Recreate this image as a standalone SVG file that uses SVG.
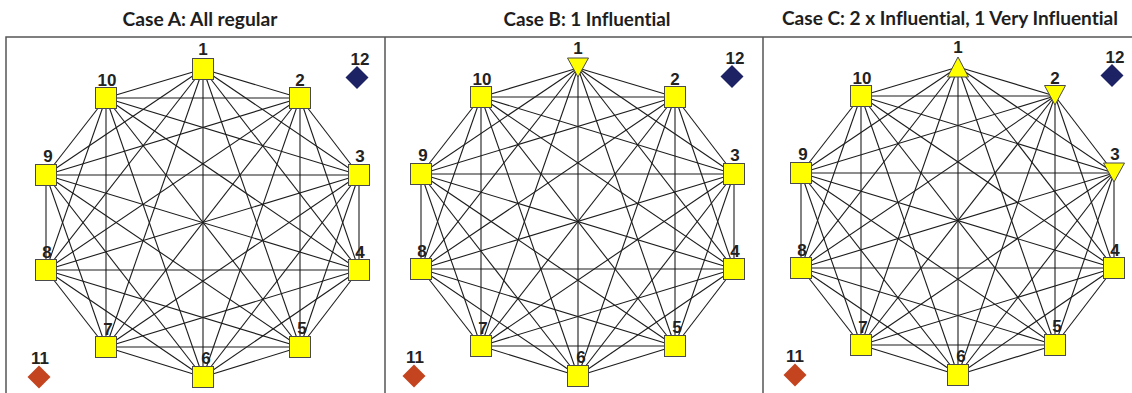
<svg xmlns="http://www.w3.org/2000/svg" xmlns:xlink="http://www.w3.org/1999/xlink" width="1132" height="393" viewBox="0 0 1132 393">
  <style>
    .title { font-family: Lato, "Open Sans", "Liberation Sans", sans-serif; font-weight: 700; font-size: 19.5px; fill: #1e1e1e; text-anchor: middle; font-variant-ligatures: none; }
    .lbl { font-family: "Liberation Sans", Arial, sans-serif; font-weight: 700; font-size: 17px; fill: #222; text-anchor: middle; }
    .edge { stroke: #1c1c1c; stroke-width: 1.1; fill: none; }
    .sq, .tri { fill: #ffff00; stroke: #4a4a4a; stroke-width: 1; }
    .navy { fill: #1c2263; }
    .red { fill: #c4441f; }
    .frame { stroke: #555; stroke-width: 1.5; fill: none; }
  </style>
  <defs>
    <!-- complete graph between the ten agents (panel-local coordinates) -->
    <g id="k10" class="edge">
      <line x1="203" y1="69" x2="300" y2="98"/>
      <line x1="203" y1="69" x2="359" y2="175"/>
      <line x1="203" y1="69" x2="359" y2="270"/>
      <line x1="203" y1="69" x2="300" y2="347"/>
      <line x1="203" y1="69" x2="203" y2="377"/>
      <line x1="203" y1="69" x2="106" y2="347"/>
      <line x1="203" y1="69" x2="46" y2="270"/>
      <line x1="203" y1="69" x2="46" y2="175"/>
      <line x1="203" y1="69" x2="106" y2="98"/>
      <line x1="300" y1="98" x2="359" y2="175"/>
      <line x1="300" y1="98" x2="359" y2="270"/>
      <line x1="300" y1="98" x2="300" y2="347"/>
      <line x1="300" y1="98" x2="203" y2="377"/>
      <line x1="300" y1="98" x2="106" y2="347"/>
      <line x1="300" y1="98" x2="46" y2="270"/>
      <line x1="300" y1="98" x2="46" y2="175"/>
      <line x1="300" y1="98" x2="106" y2="98"/>
      <line x1="359" y1="175" x2="359" y2="270"/>
      <line x1="359" y1="175" x2="300" y2="347"/>
      <line x1="359" y1="175" x2="203" y2="377"/>
      <line x1="359" y1="175" x2="106" y2="347"/>
      <line x1="359" y1="175" x2="46" y2="270"/>
      <line x1="359" y1="175" x2="46" y2="175"/>
      <line x1="359" y1="175" x2="106" y2="98"/>
      <line x1="359" y1="270" x2="300" y2="347"/>
      <line x1="359" y1="270" x2="203" y2="377"/>
      <line x1="359" y1="270" x2="106" y2="347"/>
      <line x1="359" y1="270" x2="46" y2="270"/>
      <line x1="359" y1="270" x2="46" y2="175"/>
      <line x1="359" y1="270" x2="106" y2="98"/>
      <line x1="300" y1="347" x2="203" y2="377"/>
      <line x1="300" y1="347" x2="106" y2="347"/>
      <line x1="300" y1="347" x2="46" y2="270"/>
      <line x1="300" y1="347" x2="46" y2="175"/>
      <line x1="300" y1="347" x2="106" y2="98"/>
      <line x1="203" y1="377" x2="106" y2="347"/>
      <line x1="203" y1="377" x2="46" y2="270"/>
      <line x1="203" y1="377" x2="46" y2="175"/>
      <line x1="203" y1="377" x2="106" y2="98"/>
      <line x1="106" y1="347" x2="46" y2="270"/>
      <line x1="106" y1="347" x2="46" y2="175"/>
      <line x1="106" y1="347" x2="106" y2="98"/>
      <line x1="46" y1="270" x2="46" y2="175"/>
      <line x1="46" y1="270" x2="106" y2="98"/>
      <line x1="46" y1="175" x2="106" y2="98"/>
    </g>
  </defs>

  <rect width="1132" height="393" fill="#fff"/>

  <!-- titles -->
  <text class="title" x="200" y="26" textLength="155" lengthAdjust="spacingAndGlyphs">Case A: All regular</text>
  <text class="title" x="587" y="26" textLength="167" lengthAdjust="spacingAndGlyphs">Case B: 1 Influential</text>
  <text class="title" x="950" y="25" textLength="336" lengthAdjust="spacingAndGlyphs">Case C: 2 x Influential, 1 Very Influential</text>

  <!-- panel frame -->
  <path class="frame" d="M6 393 V37 H1132 M385 37 V393 M763 37 V393"/>

  <!-- connectors -->
  <g id="connectors">
    <use xlink:href="#k10" href="#k10"/>
    <use xlink:href="#k10" href="#k10" transform="translate(375,-1)"/>
    <use xlink:href="#k10" href="#k10" transform="translate(755,-2)"/>
  </g>

  <!-- Case A -->
  <g id="caseA">
    <g id="a1"><rect class="sq" x="192.5" y="58.5" width="21" height="21"/><text class="lbl" x="203" y="55">1</text></g>
    <g id="a2"><rect class="sq" x="289.5" y="87.5" width="21" height="21"/><text class="lbl" x="300" y="86">2</text></g>
    <g id="a3"><rect class="sq" x="348.5" y="164.5" width="21" height="21"/><text class="lbl" x="360" y="162">3</text></g>
    <g id="a4"><rect class="sq" x="348.5" y="259.5" width="21" height="21"/><text class="lbl" x="360" y="258">4</text></g>
    <g id="a5"><rect class="sq" x="289.5" y="336.5" width="21" height="21"/><text class="lbl" x="302" y="334">5</text></g>
    <g id="a6"><rect class="sq" x="192.5" y="366.5" width="21" height="21"/><text class="lbl" x="206" y="364">6</text></g>
    <g id="a7"><rect class="sq" x="95.5" y="336.5" width="21" height="21"/><text class="lbl" x="108" y="335">7</text></g>
    <g id="a8"><rect class="sq" x="35.5" y="259.5" width="21" height="21"/><text class="lbl" x="47" y="258">8</text></g>
    <g id="a9"><rect class="sq" x="35.5" y="164.5" width="21" height="21"/><text class="lbl" x="48" y="162">9</text></g>
    <g id="a10"><rect class="sq" x="95.5" y="87.5" width="21" height="21"/><text class="lbl" x="107" y="86">10</text></g>
    <g id="a11"><path class="red" d="M39 365.5 L50.5 377 L39 388.5 L27.5 377 Z"/><text class="lbl" x="40" y="364">11</text></g>
    <g id="a12"><path class="navy" d="M357 66 L368.5 77.5 L357 89 L345.5 77.5 Z"/><text class="lbl" x="360" y="65">12</text></g>
  </g>

  <!-- Case B -->
  <g id="caseB" transform="translate(375,-1)">
    <g id="b1"><path class="tri" d="M192.5 59 H213.5 L203 78 Z"/><text class="lbl" x="203" y="55">1</text></g>
    <g id="b2"><rect class="sq" x="289.5" y="87.5" width="21" height="21"/><text class="lbl" x="300" y="86">2</text></g>
    <g id="b3"><rect class="sq" x="348.5" y="164.5" width="21" height="21"/><text class="lbl" x="360" y="162">3</text></g>
    <g id="b4"><rect class="sq" x="348.5" y="259.5" width="21" height="21"/><text class="lbl" x="360" y="258">4</text></g>
    <g id="b5"><rect class="sq" x="289.5" y="336.5" width="21" height="21"/><text class="lbl" x="302" y="334">5</text></g>
    <g id="b6"><rect class="sq" x="192.5" y="366.5" width="21" height="21"/><text class="lbl" x="206" y="364">6</text></g>
    <g id="b7"><rect class="sq" x="95.5" y="336.5" width="21" height="21"/><text class="lbl" x="108" y="335">7</text></g>
    <g id="b8"><rect class="sq" x="35.5" y="259.5" width="21" height="21"/><text class="lbl" x="47" y="258">8</text></g>
    <g id="b9"><rect class="sq" x="35.5" y="164.5" width="21" height="21"/><text class="lbl" x="48" y="162">9</text></g>
    <g id="b10"><rect class="sq" x="95.5" y="87.5" width="21" height="21"/><text class="lbl" x="107" y="86">10</text></g>
    <g id="b11"><path class="red" d="M39 365.5 L50.5 377 L39 388.5 L27.5 377 Z"/><text class="lbl" x="40" y="364">11</text></g>
    <g id="b12"><path class="navy" d="M357 66 L368.5 77.5 L357 89 L345.5 77.5 Z"/><text class="lbl" x="360" y="65">12</text></g>
  </g>

  <!-- Case C -->
  <g id="caseC" transform="translate(755,-2)">
    <g id="c1"><path class="tri" d="M203 59 L213.5 79 H192.5 Z"/><text class="lbl" x="203" y="55">1</text></g>
    <g id="c2"><path class="tri" d="M289.5 87.5 H310.5 L300 107 Z"/><text class="lbl" x="300" y="86">2</text></g>
    <g id="c3"><path class="tri" d="M348.5 165 H369.5 L359 184 Z"/><text class="lbl" x="360" y="162">3</text></g>
    <g id="c4"><rect class="sq" x="348.5" y="259.5" width="21" height="21"/><text class="lbl" x="360" y="258">4</text></g>
    <g id="c5"><rect class="sq" x="289.5" y="336.5" width="21" height="21"/><text class="lbl" x="302" y="334">5</text></g>
    <g id="c6"><rect class="sq" x="192.5" y="366.5" width="21" height="21"/><text class="lbl" x="206" y="364">6</text></g>
    <g id="c7"><rect class="sq" x="95.5" y="336.5" width="21" height="21"/><text class="lbl" x="108" y="335">7</text></g>
    <g id="c8"><rect class="sq" x="35.5" y="259.5" width="21" height="21"/><text class="lbl" x="47" y="258">8</text></g>
    <g id="c9"><rect class="sq" x="35.5" y="164.5" width="21" height="21"/><text class="lbl" x="48" y="162">9</text></g>
    <g id="c10"><rect class="sq" x="95.5" y="87.5" width="21" height="21"/><text class="lbl" x="107" y="86">10</text></g>
    <g id="c11"><path class="red" d="M40 365.5 L51.5 377 L40 388.5 L28.5 377 Z"/><text class="lbl" x="40" y="364">11</text></g>
    <g id="c12"><path class="navy" d="M357 66 L368.5 77.5 L357 89 L345.5 77.5 Z"/><text class="lbl" x="360" y="65">12</text></g>
  </g>
</svg>
